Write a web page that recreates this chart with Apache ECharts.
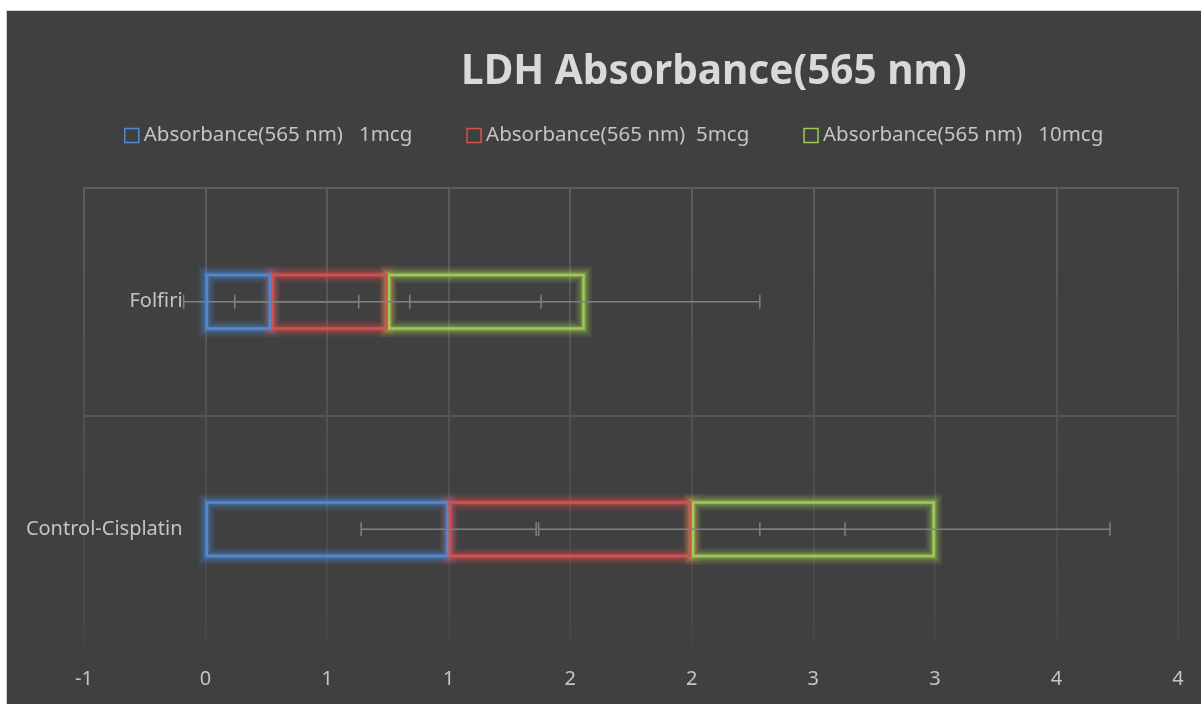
<!DOCTYPE html>
<html>
<head>
<meta charset="utf-8">
<title>LDH Absorbance(565 nm)</title>
<script src="https://cdn.jsdelivr.net/npm/echarts@6/dist/echarts.min.js"></script>
<style>
  html, body { margin: 0; padding: 0; background: #ffffff; }
  #chart {
    position: absolute; left: 6px; top: 10px;
    width: 1194px; height: 693px;
    border-top: 1px solid #cfcfcf; border-left: 1px solid #cfcfcf;
  }
</style>
</head>
<body>
<div id="chart"></div>
<script>
// data
const categories = ["Control-Cisplatin", "Folfiri"];
const abs1mcg = [1.0, 0.27];
const abs5mcg = [1.0, 0.48];
const abs10mcg = [1.0, 0.81];
const err1mcg = [0.36, 0.36];
const err5mcg = [0.63, 0.63];
const err10mcg = [0.72, 0.72];
const seriesNames = [
  "Absorbance(565 nm)   1mcg",
  "Absorbance(565 nm)  5mcg",
  "Absorbance(565 nm)   10mcg"
];
const xMin = -0.5, xMax = 4, xStep = 0.5;

const colors = ["#5189d0", "#d6514d", "#9fc856"];
const rgb = ["81,137,208", "214,81,77", "159,200,86"];
const textColor = "#c4c4c4";
const font = "Noto Sans";

const gridLeft = 77, gridRight = 23, chartWidth = 1194;
const barHeight = 56;

// excel shows 0 decimals, rounding halves away from zero
function excelRound(v) {
  const r = Math.sign(v) * Math.round(Math.abs(v));
  return r === 0 ? "0" : String(r);
}

// start / end of each stacked segment
const ends1 = abs1mcg.slice();
const ends5 = abs5mcg.map((v, i) => v + ends1[i]);
const ends10 = abs10mcg.map((v, i) => v + ends5[i]);
const starts = [categories.map(() => 0), ends1, ends5];
const ends = [ends1, ends5, ends10];

function renderErrorBar(params, api) {
  const end = api.value(0), cat = api.value(1), err = api.value(2);
  const lo = api.coord([end - err, cat]);
  const hi = api.coord([end + err, cat]);
  const cap = 7;
  const st = () => ({ stroke: "#808080", lineWidth: 1.5 });
  return {
    type: "group",
    children: [
      { type: "line", shape: { x1: lo[0], y1: lo[1], x2: hi[0], y2: hi[1] }, style: st() },
      { type: "line", shape: { x1: lo[0], y1: lo[1] - cap, x2: lo[0], y2: lo[1] + cap }, style: st() },
      { type: "line", shape: { x1: hi[0], y1: hi[1] - cap, x2: hi[0], y2: hi[1] + cap }, style: st() }
    ]
  };
}

// soft halo round each box (excel "glow"), a few faint strokes on top of each other
function glowRenderer(i) {
  const layers = [[17, 0.1], [13, 0.13], [9, 0.17], [6, 0.22], [4, 0.25]];
  return function (params, api) {
    const s = api.coord([api.value(0), api.value(2)]);
    const e = api.coord([api.value(1), api.value(2)]);
    const h = barHeight - 2;
    return {
      type: "group",
      children: layers.map(l => ({
        type: "rect",
        shape: { x: s[0] + 1, y: s[1] - h / 2, width: e[0] - s[0] - 2, height: h },
        style: { fill: "none", stroke: "rgba(" + rgb[i] + "," + l[1] + ")", lineWidth: l[0] }
      }))
    };
  };
}

function glowSeries(i) {
  return {
    type: "custom",
    renderItem: glowRenderer(i),
    data: categories.map((c, k) => [starts[i][k], ends[i][k], k]),
    encode: { x: [0, 1], y: 2 },
    silent: true,
    z: 1
  };
}

function barSeries(i, values) {
  return {
    name: seriesNames[i],
    type: "bar",
    stack: "abs",
    data: values,
    barWidth: barHeight,
    silent: true,
    emphasis: { disabled: true },
    z: 3,
    itemStyle: {
      color: "none",
      borderColor: colors[i],
      borderWidth: 2.5
    }
  };
}

function errSeries(endsArr, errs) {
  return {
    type: "custom",
    renderItem: renderErrorBar,
    data: categories.map((c, k) => [endsArr[k], k, errs[k]]),
    encode: { x: 0, y: 1 },
    silent: true,
    z: 5
  };
}

const chart = echarts.init(document.getElementById("chart"));

const gridColor = new echarts.graphic.LinearGradient(0, 0, 0, 1, [
  { offset: 0, color: "#5c5c5c" },
  { offset: 1, color: "#464646" }
]);

// excel draws the category axis where x = 0
const plotWidth = chartWidth - gridLeft - gridRight;
const yAxisOffset = -plotWidth * (0 - xMin) / (xMax - xMin);

const option = {
  backgroundColor: "#404040",
  animation: false,
  title: {
    text: "LDH Absorbance(565 nm)",
    left: 449,
    top: 36,
    textStyle: { color: "#d9d9d9", fontFamily: font, fontWeight: "bold", fontSize: 40.5 }
  },
  legend: {
    left: 112,
    top: 109,
    itemWidth: 14,
    itemHeight: 14,
    itemGap: 54,
    icon: "rect",
    selectedMode: false,
    textStyle: { color: textColor, fontFamily: font, fontSize: 20.5 },
    data: seriesNames.map((n, i) => ({
      name: n,
      itemStyle: { color: "rgba(0,0,0,0)", borderColor: colors[i], borderWidth: 1.5 }
    }))
  },
  grid: { left: gridLeft, right: gridRight, top: 177, bottom: 61, containLabel: false, outerBoundsMode: "none" },
  xAxis: {
    type: "value",
    min: xMin,
    max: xMax,
    interval: xStep,
    axisLine: { show: false },
    axisTick: { show: false },
    axisLabel: { color: textColor, fontFamily: font, fontSize: 20, margin: 26, formatter: excelRound },
    splitLine: { show: true, lineStyle: { color: gridColor, width: 2 } }
  },
  yAxis: {
    type: "category",
    data: categories,
    offset: yAxisOffset,
    axisLine: { show: false, onZero: false },
    axisTick: { show: false },
    axisLabel: { color: textColor, fontFamily: font, fontSize: 20, margin: 23 },
    splitLine: { show: true, lineStyle: { color: ["rgba(0,0,0,0)", "#565656", "#5c5c5c"], width: 2 } }
  },
  series: [
    glowSeries(0),
    glowSeries(1),
    glowSeries(2),
    barSeries(0, abs1mcg),
    barSeries(1, abs5mcg),
    barSeries(2, abs10mcg),
    errSeries(ends1, err1mcg),
    errSeries(ends5, err5mcg),
    errSeries(ends10, err10mcg)
  ]
};

chart.setOption(option);
</script>
</body>
</html>
